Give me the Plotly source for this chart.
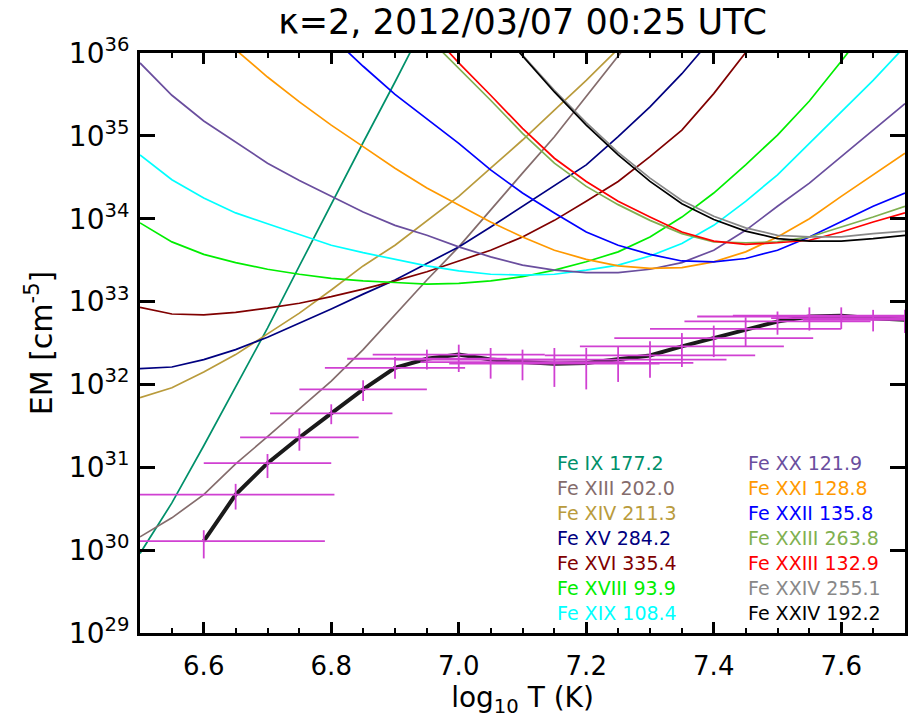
import plotly.graph_objects as go

# ---------------- data ----------------
logT = [6.50, 6.55, 6.60, 6.65, 6.70, 6.75, 6.80, 6.85, 6.90, 6.95, 7.00, 7.05,
        7.10, 7.15, 7.20, 7.25, 7.30, 7.35, 7.40, 7.45, 7.50, 7.55, 7.60, 7.65, 7.70]
N = None
# EM loci curves, log10 EM [cm^-5]
fe09_177 = [29.96, 30.57, 31.26, 31.97, 32.68, 33.43, 34.18, 34.92, 35.65, 36.40,
            N, N, N, N, N, N, N, N, N, N, N, N, N, N, N]
fe13_202 = [30.16, 30.39, 30.67, 31.04, 31.37, 31.71, 32.04, 32.42, 32.84, 33.26,
            33.66, 34.11, 34.55, 34.99, 35.47, 35.96, 36.45, N, N, N, N, N, N, N, N]
fe14_211 = [31.84, 31.96, 32.15, 32.36, 32.61, 32.86, 33.14, 33.43, 33.68, 33.97,
            34.27, 34.61, 34.95, 35.31, 35.67, 36.05, N, N, N, N, N, N, N, N, N]
fe15_284 = [32.19, 32.21, 32.30, 32.42, 32.57, 32.74, 32.91, 33.09, 33.26, 33.46,
            33.66, 33.90, 34.15, 34.39, 34.65, 34.99, 35.35, 35.75, 36.20, N, N, N, N, N, N]
fe16_335 = [32.93, 32.85, 32.84, 32.87, 32.92, 32.98, 33.06, 33.15, 33.25, 33.36,
            33.49, 33.62, 33.78, 33.98, 34.21, 34.45, 34.75, 35.07, 35.51, 36.00,
            36.50, N, N, N, N]
fe18_094 = [33.95, 33.72, 33.57, 33.47, 33.39, 33.33, 33.28, 33.25, 33.23, 33.21,
            33.22, 33.25, 33.30, 33.38, 33.48, 33.60, 33.78, 34.02, 34.31, 34.65,
            35.01, 35.42, 35.90, 36.40, N]
fe19_108 = [34.77, 34.47, 34.25, 34.07, 33.94, 33.81, 33.68, 33.59, 33.51, 33.43,
            33.37, 33.33, 33.32, 33.33, 33.38, 33.44, 33.55, 33.70, 33.92, 34.21,
            34.53, 34.91, 35.29, 35.67, 36.08]
fe20_122 = [35.88, 35.49, 35.18, 34.92, 34.67, 34.46, 34.27, 34.08, 33.92, 33.80,
            33.66, 33.54, 33.44, 33.38, 33.35, 33.35, 33.39, 33.47, 33.62, 33.86,
            34.15, 34.43, 34.75, 35.07, 35.39]
fe21_129 = [N, 36.80, 36.40, 36.04, 35.71, 35.41, 35.13, 34.87, 34.61, 34.37,
            34.17, 33.96, 33.78, 33.62, 33.51, 33.43, 33.40, 33.41, 33.48, 33.60,
            33.78, 34.00, 34.27, 34.53, 34.79]
fe22_136 = [N, N, N, N, N, N, 36.20, 35.84, 35.50, 35.21,
            34.91, 34.59, 34.31, 34.07, 33.84, 33.68, 33.57, 33.49, 33.48, 33.52,
            33.62, 33.78, 33.96, 34.15, 34.31]
fe23_264 = [N, N, N, N, N, N, N, N, N, 36.20,
            35.82, 35.43, 35.03, 34.67, 34.39, 34.17, 33.98, 33.82, 33.72, 33.71,
            33.72, 33.78, 33.90, 34.02, 34.15]
fe23_133 = [N, N, N, N, N, N, N, N, N, 36.30,
            35.88, 35.49, 35.09, 34.73, 34.45, 34.21, 34.02, 33.84, 33.73, 33.69,
            33.71, 33.74, 33.84, 33.96, 34.07]
fe24_255 = [N, N, N, N, N, N, N, N, N, N,
            N, 36.40, 35.98, 35.55, 35.16, 34.80, 34.49, 34.22, 34.03, 33.89,
            33.80, 33.78, 33.78, 33.82, 33.85]
fe24_192 = [N, N, N, N, N, N, N, N, N, N,
            N, 36.40, 35.96, 35.53, 35.13, 34.77, 34.45, 34.18, 33.99, 33.85,
            33.76, 33.73, 33.73, 33.76, 33.80]

line_labels = ["Fe IX 177.2", "Fe XIII 202.0", "Fe XIV 211.3", "Fe XV 284.2",
               "Fe XVI 335.4", "Fe XVIII 93.9", "Fe XIX 108.4", "Fe XX 121.9",
               "Fe XXI 128.8", "Fe XXII 135.8", "Fe XXIII 263.8", "Fe XXIII 132.9",
               "Fe XXIV 255.1", "Fe XXIV 192.2"]
line_colors = ["#00906A", "#846C6C", "#B99B3C", "#000080", "#800000", "#00EE00",
               "#00FFFF", "#6A4E9E", "#FF9900", "#0000FF", "#80B050", "#FF0000",
               "#888888", "#000000"]

# DEM solution with uncertainties
dem_T = [6.60, 6.65, 6.70, 6.75, 6.80, 6.85, 6.90, 6.95, 7.00, 7.05, 7.10, 7.15,
         7.20, 7.25, 7.30, 7.35, 7.40, 7.45, 7.50, 7.55, 7.60, 7.65, 7.70]
dem_log = [30.11, 30.67, 31.05, 31.36, 31.65, 31.94, 32.20, 32.31, 32.36, 32.30,
           32.27, 32.25, 32.26, 32.30, 32.35, 32.46, 32.56, 32.67, 32.76, 32.82,
           32.83, 32.80, 32.78]
dem_lo = [29.90, 30.49, 30.87, 31.20, 31.52, 31.80, 32.07, 32.18, 32.15, 32.07,
          32.05, 31.97, 31.94, 32.03, 32.08, 32.21, 32.33, 32.46, 32.60, 32.65,
          32.67, 32.64, 32.62]
dem_hi = [30.24, 30.80, 31.16, 31.47, 31.76, 32.05, 32.33, 32.42, 32.48, 32.44,
          32.42, 32.44, 32.44, 32.46, 32.52, 32.62, 32.71, 32.81, 32.88, 32.93,
          32.93, 32.90, 32.90]
dem_dT = [0.19, 0.155, 0.10, 0.093, 0.096, 0.10, 0.11, 0.125, 0.135, 0.15, 0.16,
          0.165, 0.168, 0.17, 0.165, 0.16, 0.156, 0.15, 0.146, 0.176, 0.17, 0.16, 0.16]

y_exponents = [29, 30, 31, 32, 33, 34, 35, 36]
x_ticks = [6.6, 6.8, 7.0, 7.2, 7.4, 7.6]

title_text = "κ=2, 2012/03/07 00:25 UTC"

# ---------------- figure ----------------
FONT = "DejaVu Sans"
curves = [fe09_177, fe13_202, fe14_211, fe15_284, fe16_335, fe18_094, fe19_108,
          fe20_122, fe21_129, fe22_136, fe23_264, fe23_133, fe24_255, fe24_192]


def lin(v):
    return None if v is None else 10.0 ** v


fig = go.Figure()
for lab, col, vals in zip(line_labels, line_colors, curves):
    fig.add_trace(go.Scatter(x=logT, y=[lin(v) for v in vals], mode="lines",
                             line=dict(color=col, width=1.7), name=lab,
                             connectgaps=False, hoverinfo="skip"))

dem_lin = [lin(v) for v in dem_log]
fig.add_trace(go.Scatter(x=dem_T, y=dem_lin, mode="lines",
                         line=dict(color="#1a1a1a", width=4), hoverinfo="skip"))
fig.add_trace(go.Scatter(
    x=dem_T, y=dem_lin, mode="markers",
    marker=dict(size=1, color="rgba(0,0,0,0)"),
    error_x=dict(type="data", array=dem_dT, symmetric=True, color="#D040D2",
                 thickness=1.8, width=0),
    error_y=dict(type="data", symmetric=False,
                 array=[10 ** h - 10 ** c for h, c in zip(dem_hi, dem_log)],
                 arrayminus=[10 ** c - 10 ** l for l, c in zip(dem_lo, dem_log)],
                 color="#D040D2", thickness=1.8, width=0),
    hoverinfo="skip"))

# legend as coloured text
x0_left, x0_right = 0.543, 0.792
for i, (lab, col) in enumerate(zip(line_labels, line_colors)):
    col_x = x0_left if i < 7 else x0_right
    row = i % 7
    py = 463 + 25 * row
    fig.add_annotation(x=col_x, y=(633 - py) / 580, xref="paper", yref="paper",
                       text=lab, showarrow=False, xanchor="left", yanchor="middle",
                       font=dict(family=FONT, size=19, color=col))

fig.update_layout(
    width=912, height=721,
    margin=dict(l=140, r=4, t=53, b=88),
    plot_bgcolor="white", paper_bgcolor="white",
    showlegend=False,
    font=dict(family=FONT, color="black"),
    title=dict(text=title_text, x=0.5, xref="paper", xanchor="center",
               y=1 - 22 / 721, yref="container", yanchor="middle",
               font=dict(family=FONT, size=35, color="black")),
)
fig.update_xaxes(
    range=[6.5, 7.7], tickmode="array", tickvals=x_ticks,
    ticktext=[f"{v:.1f}" for v in x_ticks],
    ticks="inside", ticklen=11, tickwidth=2.5, tickcolor="black",
    showline=True, linewidth=3, linecolor="black", mirror="allticks",
    showgrid=False, zeroline=False,
    tickfont=dict(family=FONT, size=26, color="black"),
    ticklabelstandoff=8,
    minor=dict(dtick=0.05, tick0=6.5, ticks="inside", ticklen=5, tickwidth=2,
               tickcolor="black", showgrid=False),
    title=dict(text="log<sub>10</sub> T (K)", standoff=6,
               font=dict(family=FONT, size=28, color="black")),
)
fig.update_yaxes(
    type="log", range=[29, 36], tickmode="array",
    tickvals=[10.0 ** e for e in y_exponents],
    ticktext=[f"10<sup>{e}</sup>" for e in y_exponents],
    ticks="inside", ticklen=15, tickwidth=2.5, tickcolor="black",
    showline=True, linewidth=3, linecolor="black", mirror="allticks",
    showgrid=False, zeroline=False,
    tickfont=dict(family=FONT, size=28, color="black"),
    ticklabelstandoff=2,
    title=dict(text="EM [cm<sup>-5</sup>]", standoff=8,
               font=dict(family=FONT, size=30, color="black")),
)

fig.write_html("out.html")
